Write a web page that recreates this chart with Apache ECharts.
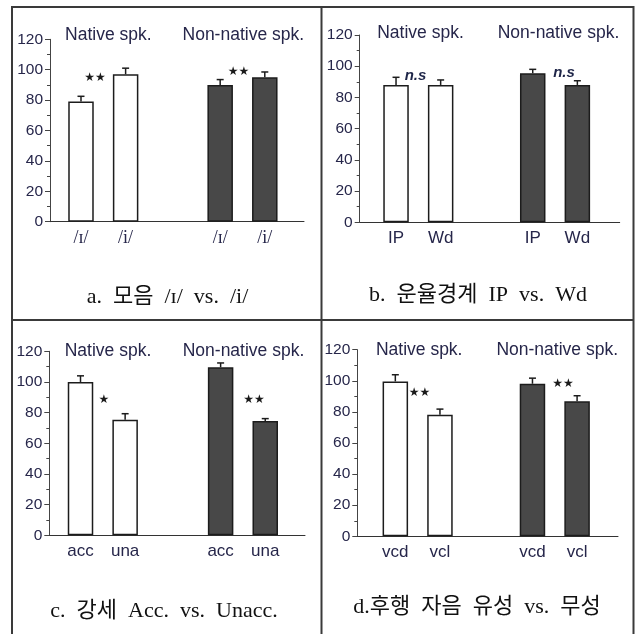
<!DOCTYPE html>
<html>
<head>
<meta charset="utf-8">
<script src="https://cdn.jsdelivr.net/npm/echarts@6/dist/echarts.min.js"></script>
<style>html,body{margin:0;padding:0;background:#fff;}#c{width:638px;height:634px;}</style>
</head>
<body>
<div id="c"></div>
<script>
// ---- data ----
const groups = ['Native spk.', 'Non-native spk.'];
const yTicks = [0, 20, 40, 60, 80, 100, 120];

const catsA = ['/ɪ/', '/i/'];
const nativeA = [79, 97];
const nativeErrA = [3.5, 4];
const nonNativeA = [90, 95];
const nonNativeErrA = [3.5, 3.5];
const sigA = ['★★', '★★'];
const captionA = 'a.  모음  /ɪ/  vs.  /i/';

const catsB = ['IP', 'Wd'];
const nativeB = [88, 88];
const nativeErrB = [4.9, 3.2];
const nonNativeB = [95.5, 88];
const nonNativeErrB = [2.5, 2.7];
const sigB = ['n.s', 'n.s'];
const captionB = 'b.  운율경계  IP  vs.  Wd';

const catsC = ['acc', 'una'];
const nativeC = [100, 75.4];
const nativeErrC = [4, 3.9];
const nonNativeC = [109.6, 74.6];
const nonNativeErrC = [2.8, 1.5];
const sigC = ['★', '★★'];
const captionC = 'c.  강세  Acc.  vs.  Unacc.';

const catsD = ['vcd', 'vcl'];
const nativeD = [99.6, 78.2];
const nativeErrD = [4.3, 3.6];
const nonNativeD = [98.1, 86.8];
const nonNativeErrD = [3.6, 3.6];
const sigD = ['★★', '★★'];
const captionD = 'd.후행  자음  유성  vs.  무성';

// ---- layout / style ----
const BAR_W = 25.5, GAP = 0.75;
const WHITE = '#ffffff', DARK = '#484848', EDGE = '#1c1c1c';
const TXT = '#26264a';
const SANS = '"Liberation Sans", Arial, sans-serif';
const SERIF = '"Liberation Serif", "DejaVu Serif", "Noto Sans CJK KR", serif';

const panels = [
  {cats: catsA, nat: nativeA, natE: nativeErrA, non: nonNativeA, nonE: nonNativeErrA, sig: sigA, cap: captionA,
   grid: {left: 50, top: 39.3, width: 254, height: 182.4}, xr: [-0.383, 1.442], serifLab: true,
   gx: [108.3, 243.3], gy: 35, sx: [95, 238.5], sy: [77.7, 71.7], cx: 167.5, cy: 297},
  {cats: catsB, nat: nativeB, natE: nativeErrB, non: nonNativeB, nonE: nonNativeErrB, sig: sigB, cap: captionB,
   grid: {left: 359.7, top: 35, width: 260, height: 187.3}, xr: [-0.429, 1.473], serifLab: false,
   gx: [420.5, 558.5], gy: 33, sx: [415.5, 564], sy: [76, 73], cx: 478, cy: 295},
  {cats: catsC, nat: nativeC, natE: nativeErrC, non: nonNativeC, nonE: nonNativeErrC, sig: sigC, cap: captionC,
   grid: {left: 49.3, top: 351.3, width: 255.7, height: 184}, xr: [-0.382, 1.443], serifLab: false,
   gx: [108, 243.5], gy: 351, sx: [104, 254], sy: [399.7, 400], cx: 164, cy: 611},
  {cats: catsD, nat: nativeD, natE: nativeErrD, non: nonNativeD, nonE: nonNativeErrD, sig: sigD, cap: captionD,
   grid: {left: 357.3, top: 349.7, width: 260.7, height: 186.6}, xr: [-0.44, 1.461], serifLab: false,
   gx: [419.2, 557.2], gy: 349.7, sx: [419.5, 563], sy: [393.3, 383.7], cx: 477, cy: 607}
];

const grid = [], xAxis = [], yAxis = [], series = [], graphic = [];

panels.forEach((p, i) => {
  grid.push(Object.assign({containLabel: false}, p.grid));
  xAxis.push({
    type: 'value', gridIndex: i, min: p.xr[0], max: p.xr[1],
    axisLine: {show: true, onZero: false, lineStyle: {color: '#333', width: 1}},
    axisTick: {show: false}, axisLabel: {show: false}, splitLine: {show: false}
  });
  yAxis.push({
    type: 'value', gridIndex: i, min: yTicks[0], max: yTicks[yTicks.length - 1], interval: yTicks[1] - yTicks[0],
    axisLine: {show: true, onZero: false, lineStyle: {color: '#444', width: 1}},
    axisTick: {show: true, inside: false, length: 5, lineStyle: {color: '#444'}},
    minorTick: {show: true, splitNumber: 2, length: 3, lineStyle: {color: '#444'}},
    axisLabel: {color: TXT, fontSize: 15.5, fontFamily: SANS, margin: 7},
    splitLine: {show: false}
  });
  for (let j = 0; j < 2; j++) {
    const off = (j === 0 ? -1 : 1) * (BAR_W + BAR_W * GAP) / 2;
    series.push({
      type: 'bar', name: p.cats[j], xAxisIndex: i, yAxisIndex: i,
      barWidth: BAR_W, barGap: (GAP * 100) + '%',
      data: [
        {value: [0, p.nat[j]], itemStyle: {color: WHITE}},
        {value: [1, p.non[j]], itemStyle: {color: DARK}}
      ],
      itemStyle: {borderColor: EDGE, borderWidth: 1.5},
      label: {
        show: true, position: 'bottom', distance: 8, formatter: '{a}',
        color: TXT, fontSize: p.serifLab ? 18 : 17,
        fontFamily: p.serifLab ? SERIF : SANS
      },
      emphasis: {disabled: true}, silent: true, z: 2
    });
    series.push({
      type: 'custom', xAxisIndex: i, yAxisIndex: i, silent: true, z: 3,
      data: [[0, p.nat[j], p.nat[j] + p.natE[j]], [1, p.non[j], p.non[j] + p.nonE[j]]],
      encode: {x: 0, y: [1, 2]},
      renderItem: (params, api) => {
        const a = api.coord([api.value(0), api.value(1)]);
        const b = api.coord([api.value(0), api.value(2)]);
        const x = a[0] + off;
        const st = {stroke: '#1c1c1c', lineWidth: 1.5};
        return {type: 'group', children: [
          {type: 'line', shape: {x1: x, y1: a[1], x2: x, y2: b[1]}, style: st},
          {type: 'line', shape: {x1: x - 3.5, y1: b[1], x2: x + 3.5, y2: b[1]}, style: st}
        ]};
      }
    });
  }
  // group titles
  groups.forEach((g, k) => {
    graphic.push({type: 'text', x: p.gx[k], y: p.gy, silent: true,
      style: {text: g, fill: TXT, font: '17.5px ' + SANS, align: 'center', verticalAlign: 'middle'}});
  });
  // significance markers
  p.sig.forEach((s, k) => {
    const isNs = s === 'n.s';
    graphic.push({type: 'text', x: p.sx[k], y: p.sy[k], silent: true,
      style: {text: s, fill: isNs ? '#1e2548' : '#1a1a1a',
        font: isNs ? 'italic bold 15px ' + SANS : '12px "DejaVu Sans", sans-serif',
        align: 'center', verticalAlign: 'middle'}});
  });
  // caption
  graphic.push({type: 'text', x: p.cx, y: p.cy, silent: true,
    style: {text: p.cap, fill: '#111', font: '22px ' + SERIF, align: 'center', verticalAlign: 'middle'}});
});

// frame lines
const frame = {stroke: '#3a3a3a', lineWidth: 2};
[[12, 7, 633.5, 7], [12, 6, 12, 634], [633.5, 6, 633.5, 634], [321.5, 6, 321.5, 634], [12, 320, 633.5, 320]]
  .forEach(l => graphic.push({type: 'line', silent: true, shape: {x1: l[0], y1: l[1], x2: l[2], y2: l[3]}, style: frame}));

const chart = echarts.init(document.getElementById('c'), null, {renderer: 'canvas'});
chart.setOption({animation: false, backgroundColor: '#fff', grid, xAxis, yAxis, series, graphic});
</script>
</body>
</html>
